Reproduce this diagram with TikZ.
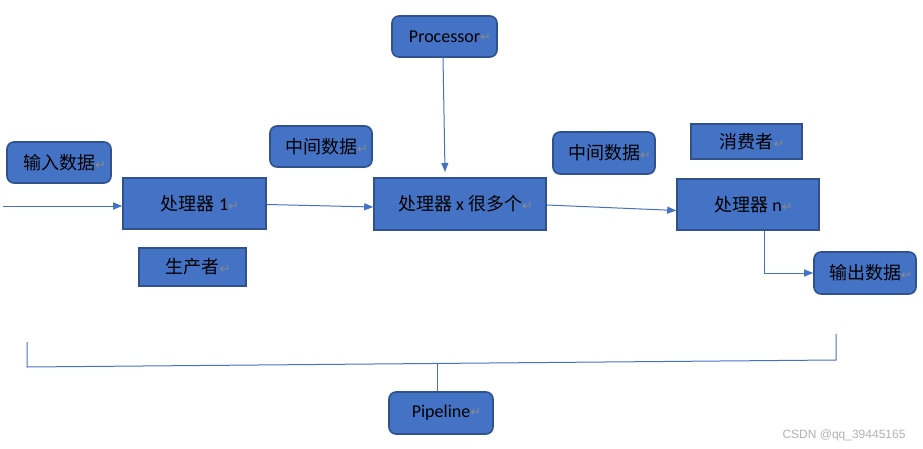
\documentclass[tikz,border=0pt]{standalone}
\usepackage{fontspec}
\setmainfont{Carlito}
\newfontfamily\cjk{Noto Sans CJK SC}
\newfontfamily\dvs{DejaVu Sans}
\newfontfamily\wmfont{Liberation Sans}
\usetikzlibrary{arrows.meta}
\definecolor{fillblue}{HTML}{4472C4}
\definecolor{edgeblue}{HTML}{2F528F}
\definecolor{markgray}{HTML}{8A8A8A}
\newcommand\rmk{{\dvs\color{markgray}\fontsize{13}{13}\selectfont ↵}}
\newcommand\txt[1]{\hspace*{11pt}\raisebox{-1pt}{#1\rmk}}
\begin{document}
\begin{tikzpicture}[x=1pt,y=-1pt,
  box/.style={draw=edgeblue, line width=1.6pt, fill=fillblue, inner sep=0pt, text=black, font=\fontsize{18}{18}\selectfont},
  rbox/.style={box, rounded corners=7pt},
  conn/.style={draw=fillblue, line width=1pt},
  arr/.style={conn, -{Triangle[length=9pt,width=7pt]}}]
\useasboundingbox (0,0) rectangle (923,449);
\fill[white] (0,0) rectangle (923,449);

\node[rbox, minimum width=105pt, minimum height=41pt] (proc) at (444.5,36.5) {\txt{\raisebox{-1pt}{Processor}}};
\node[rbox, minimum width=104pt, minimum height=41pt] (in) at (59,162.5) {\txt{{\cjk 输入数据}}};
\node[box, minimum width=143pt, minimum height=51pt] (p1) at (194.5,203.5) {\txt{{\cjk 处理器} 1}};
\node[rbox, minimum width=102pt, minimum height=41pt] (mid1) at (321,146.5) {\txt{{\cjk 中间数据}}};
\node[box, minimum width=172pt, minimum height=52pt] (px) at (460,204) {\txt{{\cjk 处理器} x {\cjk 很多个}}};
\node[rbox, minimum width=102pt, minimum height=42pt] (mid2) at (604,153) {\txt{{\cjk 中间数据}}};
\node[box, minimum width=111pt, minimum height=35pt] (cons) at (746.5,141.5) {\txt{{\cjk 消费者}}};
\node[box, minimum width=142pt, minimum height=51pt] (pn) at (748,204.5) {\txt{{\cjk 处理器} n}};
\node[rbox, minimum width=102pt, minimum height=42pt] (out) at (865,273) {\txt{{\cjk 输出数据}}};
\node[box, minimum width=107pt, minimum height=38pt] (prod) at (192.5,267) {\txt{{\cjk 生产者}}};
\node[rbox, minimum width=104pt, minimum height=42pt] (pipe) at (441,413) {\txt{\raisebox{-1pt}{Pipeline}}};

\coordinate (start) at (3,206);
\coordinate (ptop) at (443,57);
\coordinate (pend) at (445,172);
\draw[arr] (start) -- (p1.west |- start);
\draw[arr] ([yshift=-1pt]p1.east) -- ([yshift=-3pt]px.west);
\draw[arr] ([yshift=-1pt]px.east) -- ([yshift=-6pt]pn.west);
\draw[arr] (ptop) -- (pend);
\draw[arr] ([xshift=16pt]pn.south) |- (out.west);

\coordinate (bl1) at (27,342);
\coordinate (bl2) at (27,367);
\coordinate (br2) at (836,360);
\coordinate (br1) at (836,334);
\coordinate (stem) at (437,364);
\draw[conn] (bl1) -- (bl2) -- (br2) -- (br1);
\draw[conn, line width=0.7pt] (stem) -- (pipe.north -| stem);

\node[text=gray!60, font=\wmfont\fontsize{12}{12}\selectfont, inner sep=0pt] (wm) at (844,435) {CSDN @qq\_39445165};
\end{tikzpicture}
\end{document}
